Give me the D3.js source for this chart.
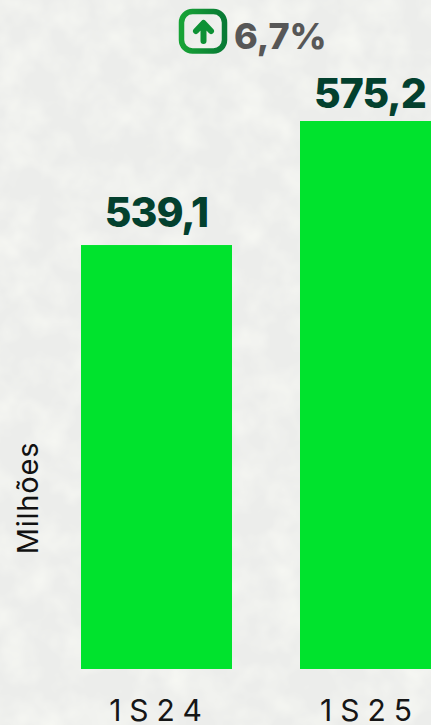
<!DOCTYPE html>
<html><head><meta charset="utf-8">
<script src="https://cdn.jsdelivr.net/npm/d3@7"></script>
<style>
html,body{margin:0;padding:0;width:431px;height:725px;overflow:hidden;background:#ecedeb}
svg{display:block}
text{font-family:Inter,"Noto Sans",sans-serif}
</style></head><body>
<svg id="c" width="431" height="725"></svg>
<script>
const categories = ["1S24", "1S25"];
const values = [539.1, 575.2];
const valueLabels = ["539,1", "575,2"];
const changeLabel = "6,7%";
const axisTitle = "Milhões";

const svg = d3.select("#c");
const defs = svg.append("defs");
const tex = defs.append("filter").attr("id","tex").attr("x","0").attr("y","0").attr("width","100%").attr("height","100%");
tex.append("feTurbulence").attr("type","fractalNoise").attr("baseFrequency","0.03").attr("numOctaves",3).attr("seed",7);
tex.append("feColorMatrix").attr("type","matrix")
  .attr("values","0 0 0 0 0.97  0 0 0 0 0.98  0 0 0 0 0.93  1.3 0 0 0 -0.5");
const grad = defs.append("linearGradient").attr("id","badge").attr("x1","0").attr("x2","1").attr("y1","0").attr("y2","0");
grad.append("stop").attr("offset","0").attr("stop-color","#17a336");
grad.append("stop").attr("offset","1").attr("stop-color","#087a34");

// soft photographic backdrop
svg.append("rect").attr("width",431).attr("height",725).attr("filter","url(#tex)");

const x = d3.scaleBand().domain(categories).range([81,451]).paddingInner(0.3105).paddingOuter(0);
const y = d3.scaleLinear().domain([415.7,575.2]).range([669,121]);

svg.selectAll("rect.bar").data(values).join("rect").attr("class","bar")
  .attr("x",(d,i)=>x(categories[i])).attr("width",x.bandwidth())
  .attr("y",d=>y(d)).attr("height",d=>y.range()[0]-y(d))
  .attr("fill","#00e32d");

const valueX = [156.5, 370];
const valueGap = [18, 13];
svg.selectAll("text.val").data(values).join("text").attr("class","val")
  .attr("x",(d,i)=>valueX[i]).attr("y",(d,i)=>y(d)-valueGap[i])
  .attr("text-anchor","middle").attr("font-size",41).attr("font-weight",800)
  .attr("letter-spacing",-1).attr("fill","#03402e")
  .text((d,i)=>valueLabels[i]);

const tickX = [159.5, 370];
svg.selectAll("text.tick").data(categories).join("text").attr("class","tick")
  .attr("x",(d,i)=>tickX[i]).attr("y",720.5)
  .attr("text-anchor","middle").attr("font-size",30).attr("font-weight",400)
  .attr("letter-spacing",8).attr("fill","#161616")
  .text(d=>d);

svg.append("text").attr("transform","translate(38,498) rotate(-90)")
  .attr("text-anchor","middle").attr("font-size",29).attr("font-weight",400).attr("letter-spacing",0.8)
  .attr("fill","#111").text(axisTitle);

// change badge
const b = svg.append("g");
b.append("rect").attr("x",181.5).attr("y",11.5).attr("width",43).attr("height",39.5).attr("rx",11)
  .attr("fill","none").attr("stroke","url(#badge)").attr("stroke-width",5.5);
b.append("path").attr("d","M203.5 41V24M196 31L203.5 23L211 31")
  .attr("fill","none").attr("stroke","#0d9135").attr("stroke-width",6).attr("stroke-linecap","round").attr("stroke-linejoin","round");
svg.append("text").attr("x",234).attr("y",48.5).attr("font-size",36).attr("font-weight",800)
  .attr("fill","#575757").text(changeLabel);
</script>
</body></html>
